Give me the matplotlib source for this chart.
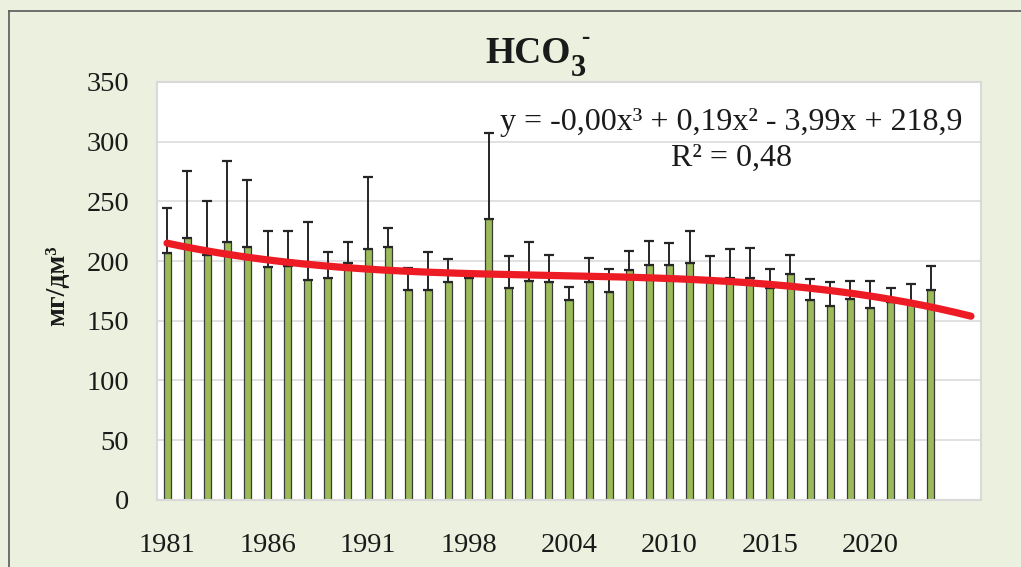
import matplotlib
matplotlib.use("Agg")
import matplotlib.pyplot as plt
import numpy as np

plt.rcParams['font.family'] = ['Liberation Serif', 'DejaVu Serif']

# years (some years absent from the series)
years = [1981, 1982, 1983, 1984, 1985, 1986, 1987, 1988, 1989, 1990,
         1991, 1992, 1993, 1996, 1997, 1998, 1999, 2000, 2001, 2003,
         2004, 2005, 2006, 2007, 2008, 2010, 2011, 2012, 2013, 2014,
         2015, 2016, 2017, 2018, 2019, 2020, 2021, 2022, 2023]
hco3 = [207, 219, 205, 216, 211.5, 195, 196, 184.5, 185.5, 198.5,
        210, 211.5, 176, 176, 182, 186, 235.5, 177.5, 183, 182,
        167.5, 182, 174, 192.5, 197, 197, 198.5, 185, 186, 185.5,
        177, 189.5, 167.5, 162.5, 168, 160.5, 166, 165, 175.5]
sd = [37.5, 56.5, 45, 68, 56, 30, 29.5, 48, 22, 17.5,
      60.5, 16, 18.5, 31.5, 19.5, 4, 71.5, 26.5, 33, 23,
      11, 20.5, 19.5, 16, 19.5, 18, 27, 19, 24, 25.5,
      16, 15.5, 17.5, 20, 15.5, 22.5, 11.5, 15.5, 20.5]
yticks = [0, 50, 100, 150, 200, 250, 300, 350]
n_forward = 2  # trend extended 2 periods

W, H = 1021, 567
fig = plt.figure(figsize=(W / 100, H / 100), dpi=100)
fig.patch.set_facecolor('#EBF1DE')

def fx(px):
    return px / W

def fy(py):
    return 1 - py / H

# outer chart frame (only top and left edges fall inside the picture)
fig.add_artist(plt.Line2D([fx(8.5), 1.0], [fy(11), fy(11)], transform=fig.transFigure,
                          color='#5A5A5A', linewidth=1.2))
fig.add_artist(plt.Line2D([fx(8.5), fx(8.5)], [0.0, fy(11)], transform=fig.transFigure,
                          color='#5A5A5A', linewidth=1.2))

ax = fig.add_axes([fx(157), fy(499.7), fx(981) - fx(157), fy(82) - fy(499.7)])
ax.set_facecolor('white')

x = np.arange(1, len(hco3) + 1)
ax.bar(x, hco3, width=0.35, color='#9BBB59', edgecolor='#3A3A3A', linewidth=0.9, zorder=2)
ax.errorbar(x, hco3, yerr=[np.zeros(len(sd)), sd], fmt='none', ecolor='#262626',
            elinewidth=1.4, capsize=3.3, capthick=1.6, zorder=3)

# polynomial trend, order 3
coef = np.polyfit(x, hco3, 3)
xt = np.linspace(1, len(hco3) + n_forward, 300)
ax.plot(xt, np.polyval(coef, xt), color='#ED1C24', linewidth=5.2, solid_capstyle='round', zorder=4)

ax.set_xlim(0.5, len(hco3) + n_forward + 0.5)
ax.set_ylim(0, 350)
ax.set_yticks(yticks)
ax.set_xticks(x[::5])
ax.set_xticklabels([str(y) for y in years[::5]])
ax.tick_params(axis='both', length=0, labelsize=20.5, colors='#1A1A1A')
ax.tick_params(axis='x', pad=24)
ax.tick_params(axis='y', pad=20)
ax.grid(axis='y', color='#D9D9D9', linewidth=1.1, zorder=0)
ax.set_axisbelow(True)
for s in ax.spines.values():
    s.set_color('#D9D9D9')
    s.set_linewidth(1.5)

# y label
fig.text(fx(58), fy(286), 'мг/дм³', rotation=90, ha='center', va='center',
         fontsize=20, fontweight='bold', color='#1A1A1A')

# title HCO3-
fig.text(fx(485), fy(63), 'HCO', fontsize=27, fontweight='bold', ha='left', va='baseline', color='#1A1A1A')
fig.text(fx(571), fy(76), '3', fontsize=22, fontweight='bold', ha='left', va='baseline', color='#1A1A1A')
fig.text(fx(585.5), fy(44), '-', fontsize=18, fontweight='bold', ha='center', va='baseline', color='#1A1A1A')

# trend equation
fig.text(fx(731.5), fy(130), 'y = -0,00x³ + 0,19x² - 3,99x + 218,9', fontsize=23,
         ha='center', va='baseline', color='#1A1A1A')
fig.text(fx(731.5), fy(166), 'R² = 0,48', fontsize=23, ha='center', va='baseline', color='#1A1A1A')

fig.savefig('out.png', dpi=100, facecolor=fig.get_facecolor())
